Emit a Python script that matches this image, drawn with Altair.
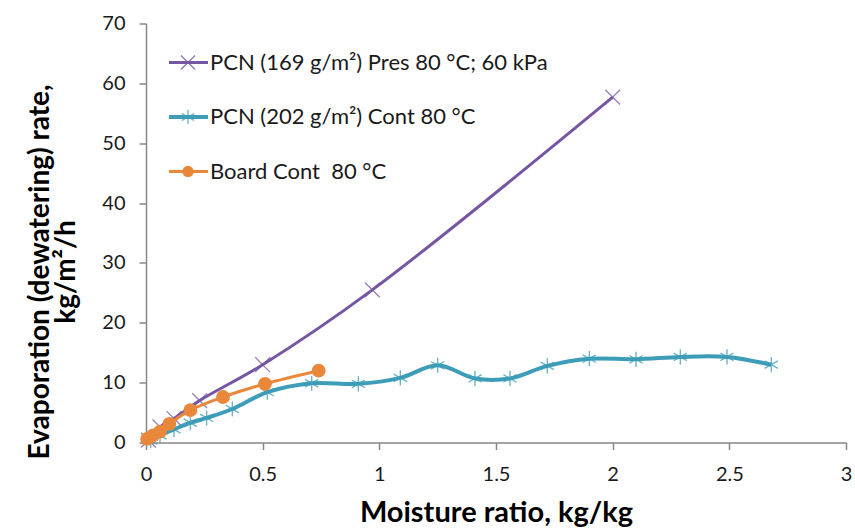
import altair as alt
import pandas as pd

# ---- data ----
pres_x = [0.01, 0.06, 0.12, 0.23, 0.50, 0.97, 2.00]
pres_y = [0.4, 2.6, 4.0, 7.0, 13.0, 25.5, 57.7]

cont_x = [0.02, 0.06, 0.12, 0.19, 0.26, 0.37, 0.52, 0.71, 0.91, 1.09, 1.25,
          1.41, 1.56, 1.72, 1.90, 2.10, 2.29, 2.49, 2.68]
cont_y = [0.3, 1.2, 2.2, 3.3, 4.1, 5.6, 8.4, 9.9, 9.8, 10.8, 12.9,
          10.7, 10.7, 12.8, 14.0, 13.9, 14.3, 14.3, 13.0]

board_x = [0.005, 0.03, 0.06, 0.10, 0.19, 0.33, 0.51, 0.74]
board_y = [0.6, 1.2, 1.8, 3.1, 5.4, 7.6, 9.8, 12.0]

labels = [
    "PCN (169 g/m\u00b2) Pres 80 \u00b0C; 60 kPa",
    "PCN (202 g/m\u00b2) Cont 80 \u00b0C",
    "Board Cont\u00a0 80 \u00b0C",
]
colors = ["#7656a3", "#3d9db8", "#e9883b"]

x_ticks = [0, 0.5, 1, 1.5, 2, 2.5, 3]
y_ticks = [0, 10, 20, 30, 40, 50, 60, 70]

X_SHAPE = "M-1,-1L1,1M-1,1L1,-1"
AST_SHAPE = "M0,-1L0,1M-0.87,-0.5L0.87,0.5M-0.87,0.5L0.87,-0.5"

FONT = "Lato"
TEXT_COLOR = "#1a1a1a"

xscale = alt.Scale(domain=[0, 3], nice=False, zero=False)
yscale = alt.Scale(domain=[0, 70], nice=False)

x_axis = alt.Axis(
    values=x_ticks, format="~g", title="Moisture ratio, kg/kg",
    grid=False, domainColor="#878787", domainWidth=1.5, tickColor="#878787",
    tickWidth=1.5, tickSize=7, labelPadding=15, labelFontSize=20,
    labelFont=FONT, labelColor=TEXT_COLOR, titleFont=FONT, titleFontSize=29,
    titleFontWeight="bold", titleColor="#000000", titleBaseline="alphabetic",
    titleY=79, labelFlush=False,
)
y_axis = alt.Axis(
    values=y_ticks, title=["Evaporation (dewatering) rate,", "kg/m\u00b2/h"],
    grid=False, domainColor="#878787", domainWidth=1.5, tickColor="#878787",
    tickWidth=1.5, tickSize=7, labelPadding=14, labelFontSize=20,
    labelFont=FONT, labelColor=TEXT_COLOR, titleFont=FONT, titleFontSize=28,
    titleFontWeight="bold", titleColor="#000000", titleBaseline="middle",
    titleX=-106, titleY=248, titleLineHeight=26, labelFlush=False,
)


def enc_x():
    return alt.X("x:Q", scale=xscale, axis=x_axis)


def enc_y():
    return alt.Y("y:Q", scale=yscale, axis=y_axis)


def series(xs, ys, color, width, shape, size, filled, sw):
    df = pd.DataFrame({"x": xs, "y": ys})
    base = alt.Chart(df)
    line = base.mark_line(
        color=color, strokeWidth=width, interpolate="catmull-rom"
    ).encode(x=enc_x(), y=enc_y())
    if filled:
        pts = base.mark_point(
            shape=shape, size=size, filled=True, color=color, opacity=1
        ).encode(x=enc_x(), y=enc_y())
    else:
        pts = base.mark_point(
            shape=shape, size=size, filled=False, color=color,
            strokeWidth=sw, opacity=0.75
        ).encode(x=enc_x(), y=enc_y())
    return [line, pts]


layers = []
layers += series(pres_x, pres_y, colors[0], 3, X_SHAPE, 220, False, 1.3)
layers += series(cont_x, cont_y, colors[1], 4, AST_SHAPE, 230, False, 1.4)
layers += series(board_x, board_y, colors[2], 3, "circle", 190, True, 0)

# ---- manual legend (line + marker + label) ----
one = alt.Data(values=[{}])
leg_shapes = [(X_SHAPE, False, 200), (AST_SHAPE, False, 200), ("circle", True, 130)]
leg_widths = [3, 4, 3]
LX0, LX1, LXM, LTX = 23, 62, 42, 64   # relative to plot left
LY0, LDY = 39, 54.5
for i, lab in enumerate(labels):
    yy = LY0 + i * LDY
    layers.append(
        alt.Chart(one).mark_rule(color=colors[i], strokeWidth=leg_widths[i]).encode(
            x=alt.value(LX0), x2=alt.value(LX1), y=alt.value(yy)
        )
    )
    shp, fill, sz = leg_shapes[i]
    if fill:
        layers.append(
            alt.Chart(one).mark_point(shape=shp, size=sz, filled=True,
                                      color=colors[i], opacity=1).encode(
                x=alt.value(LXM), y=alt.value(yy))
        )
    else:
        layers.append(
            alt.Chart(one).mark_point(shape=shp, size=sz, filled=False,
                                      color=colors[i], strokeWidth=1.3,
                                      opacity=0.8).encode(
                x=alt.value(LXM), y=alt.value(yy))
        )
    layers.append(
        alt.Chart(one).mark_text(
            text=lab, align="left", baseline="middle", font=FONT,
            fontSize=22, color=TEXT_COLOR
        ).encode(x=alt.value(LTX), y=alt.value(yy))
    )

chart = alt.layer(*layers).properties(
    width=700, height=419,
    autosize=alt.AutoSizeParams(type="none"),
    padding={"left": 146, "top": 23.5, "right": 9, "bottom": 86.5},
    background="white",
).configure_view(stroke=None)

chart.save("out.html", embed_options={"renderer": "svg", "actions": False})
